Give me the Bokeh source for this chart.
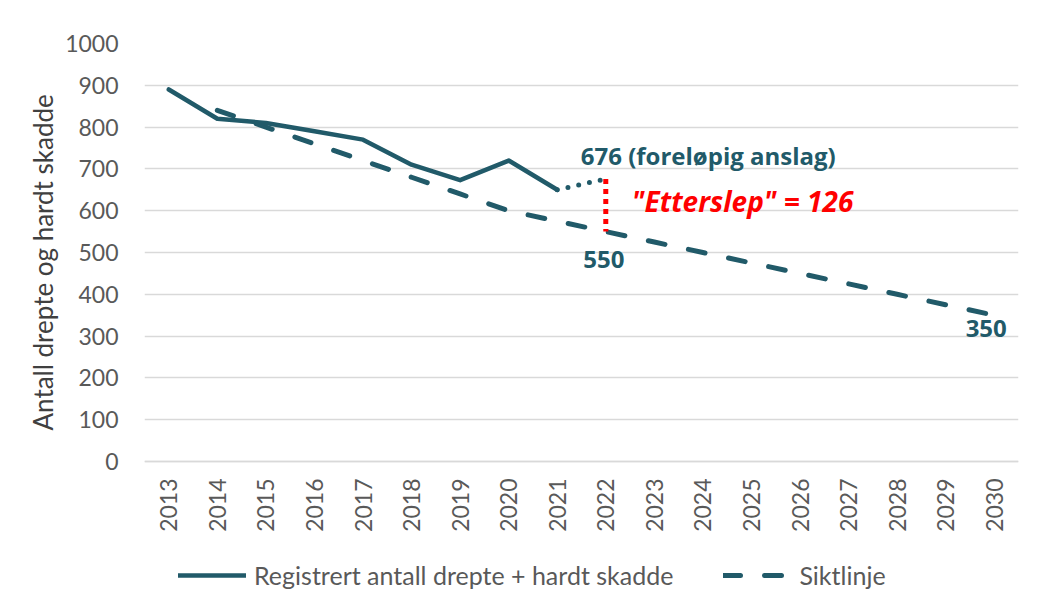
import math
from bokeh.plotting import figure
from bokeh.models import FactorRange, Range1d, Legend, LegendItem, Title
from bokeh.core.properties import value
from bokeh.embed import file_html
from bokeh.resources import INLINE

# ---- data ----
years = [str(y) for y in range(2013, 2031)]
reg_years = ["2013", "2014", "2015", "2016", "2017", "2018", "2019", "2020", "2021"]
reg_values = [890, 820, 810, 790, 770, 710, 673, 720, 650]
est_years = ["2021", "2022"]
est_values = [650, 676]
target_years = [str(y) for y in range(2014, 2031)]
target_values = [840, 800, 760, 720, 680, 640, 600, 575, 550, 525, 500, 475, 450, 425, 400, 375, 350]
gap_years = ["2022", "2022"]
gap_values = [676, 550]
y_ticks = [0, 100, 200, 300, 400, 500, 600, 700, 800, 900, 1000]

TEAL = "#215A69"
GREY = "#595959"
FONT = "Lato"
BFONT = "Open Sans"

# layout: value axis 0..1000 occupies 418 px; frame extends further down to hold the legend
AXIS_PX = 418
FRAME_PX = 556
y_bottom = -1000 * (FRAME_PX - AXIS_PX) / AXIS_PX

p = figure(
    x_range=FactorRange(factors=years, range_padding=0),
    y_range=Range1d(y_bottom, 1000),
    output_backend="svg", toolbar_location=None,
    frame_width=874, frame_height=FRAME_PX,
    min_border_left=144, min_border_top=43, min_border_right=12, min_border_bottom=0,
)
p.outline_line_color = None
p.background_fill_color = "white"
p.border_fill_color = "white"

# grid
p.xgrid.grid_line_color = None
p.ygrid.grid_line_color = "#D9D9D9"
p.ygrid.grid_line_width = 1.5
p.yaxis.ticker = y_ticks

# axes
p.yaxis.axis_line_color = None
p.yaxis.major_tick_line_color = None
p.yaxis.minor_tick_line_color = None
p.yaxis.major_label_text_font = FONT
p.yaxis.major_label_text_font_size = "23px"
p.yaxis.major_label_text_color = GREY
p.yaxis.major_label_standoff = 20

ytitle = Title(text="Antall drepte og hardt skadde", align="left", offset=169,
               text_font=FONT, text_font_size="26px", text_font_style="normal",
               text_color="#404040", standoff=8)
p.add_layout(ytitle, "left")

p.xaxis.fixed_location = 0
p.xaxis.axis_line_color = "#D9D9D9"
p.xaxis.axis_line_width = 1.5
p.xaxis.major_tick_line_color = None
p.xaxis.minor_tick_line_color = None
p.xaxis.major_label_orientation = math.pi / 2
p.xaxis.major_label_text_font = FONT
p.xaxis.major_label_text_font_size = "23px"
p.xaxis.major_label_text_color = GREY
p.xaxis.major_label_standoff = 11

# lines
r_target = p.line(target_years, target_values, line_color=TEAL, line_width=5,
                  line_dash="17 24", line_cap="round")
r_reg = p.line(reg_years, reg_values, line_color=TEAL, line_width=4.5, line_join="round",
               line_cap="round")
p.line(est_years, est_values, line_color=TEAL, line_width=5, line_dash="0 11", line_cap="round")
p.line(gap_years, gap_values, line_color="#FF0000", line_width=5, line_dash="5 5")

# annotations
p.text(x=["2022"], y=[676], text=["676 (foreløpig anslag)"], text_align="left",
       text_baseline="middle", x_offset=-25, y_offset=-23, text_color=TEAL,
       text_font=value(BFONT), text_font_style="bold", text_font_size="24px")
p.text(x=["2022"], y=[550], text=["550"], text_align="center",
       text_baseline="middle", x_offset=-2, y_offset=28, text_color=TEAL,
       text_font=value(BFONT), text_font_style="bold", text_font_size="24px")
p.text(x=["2022"], y=[613], text=['"Etterslep" = 126'], text_align="left",
       text_baseline="middle", x_offset=26, y_offset=-4, text_color="#FF0000",
       text_font=value(BFONT), text_font_style="bold italic", text_font_size="28px")
p.text(x=["2030"], y=[350], text=["350"], text_align="center",
       text_baseline="middle", x_offset=-8, y_offset=13, text_color=TEAL,
       text_font=value(BFONT), text_font_style="bold", text_font_size="24px")

legend = Legend(items=[
    LegendItem(label="Registrert antall drepte + hardt skadde", renderers=[r_reg]),
    LegendItem(label="Siktlinje", renderers=[r_target]),
], orientation="horizontal", location=(34, 9))
legend.border_line_color = None
legend.background_fill_alpha = 0
legend.padding = 0
legend.margin = 0
legend.spacing = 50
legend.glyph_width = 68
legend.label_standoff = 8
legend.label_text_font = FONT
legend.label_text_font_size = "25px"
legend.label_text_color = GREY
p.add_layout(legend, "center")

open("out.html", "w").write(file_html(p, INLINE))
